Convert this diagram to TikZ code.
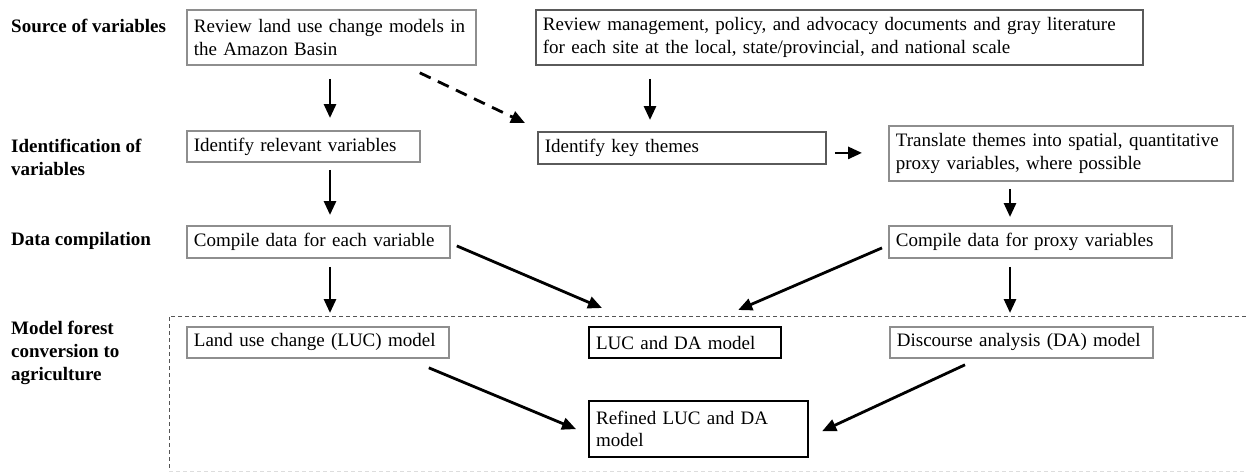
\documentclass[tikz,border=0pt]{standalone}
\usepackage{fontspec}
\setmainfont{Liberation Serif}
\usetikzlibrary{arrows.meta,positioning}
\definecolor{framegray}{HTML}{8E8E8E}
\definecolor{darkframe}{HTML}{5A5A5A}
\definecolor{dashgray}{HTML}{555555}
\definecolor{fadegray}{HTML}{DDDDDD}

\begin{document}
\begin{tikzpicture}[
  x=1pt,y=-1pt,
  >={Triangle[length=14pt,width=12pt]},
  every node/.style={font=\fontsize{19}{22.5}\selectfont},
  stage/.style={draw=framegray,line width=1.8pt,anchor=north west,align=left,inner xsep=7pt,inner ysep=2pt},
  keystage/.style={stage,draw=darkframe},
  result/.style={stage,draw=black,line width=2.2pt},
  rowlabel/.style={anchor=west,align=left,inner sep=0pt,font=\fontsize{19}{23}\selectfont\bfseries},
  flow/.style={line width=2.8pt,->},
  linkdash/.style={flow,dash pattern=on 12pt off 8pt},
  modelframe/.style={line width=0.9pt,dash pattern=on 4pt off 3pt}
]
  \useasboundingbox (0,0) rectangle (1246,472);

  % row labels
  \node[rowlabel] (srclabel) at (11,26) {Source of variables};
  \node[rowlabel] (idlabel) at (11,157) {Identification of\\variables};
  \node[rowlabel] (datalabel) at (11,241) {Data compilation};
  \node[rowlabel] (modellabel) at (11,353) {Model forest\\conversion to\\agriculture};

  % boxes
  \node[stage,text width=275pt,minimum height=55pt] (landuse) at (186,9) {Review land use change models in\\the Amazon Basin};
  \node[keystage,text width=593pt,minimum height=55pt] (policy) at (535,9) {Review management, policy, and advocacy documents and gray literature\\for each site at the local, state/provincial, and national scale};
  \node[stage,text width=219pt,minimum height=31pt] (relvars) at (186,130) {Identify relevant variables};
  \node[keystage,text width=274pt,minimum height=32pt] (themes) at (537,131) {Identify key themes};
  \node[stage,text width=330pt,minimum height=55pt] (translate) at (888,125) {Translate themes into spatial, quantitative\\proxy variables, where possible};
  \node[stage,text width=249pt,minimum height=32pt] (eachvar) at (186,225) {Compile data for each variable};
  \node[stage,text width=269pt,minimum height=32pt] (proxyvar) at (888,225) {Compile data for proxy variables};
  \node[stage,text width=248pt,minimum height=31pt] (lucmodel) at (186,326) {Land use change (LUC) model};
  \node[result,text width=178pt,minimum height=31pt] (bothmodel) at (588,326) {LUC and DA model};
  \node[stage,text width=249pt,minimum height=31pt] (damodel) at (889,326) {Discourse analysis (DA) model};
  \node[result,text width=205pt,minimum height=56pt] (refined) at (588,400) {Refined LUC and DA\\model};

  \coordinate (leftcol) at (330,0);
  \coordinate (midcol) at (650,0);
  \coordinate (rightcol) at (1010,0);

  % arrows
  \draw[flow,shorten <=13pt,shorten >=12pt] (landuse.south -| leftcol) -- (relvars.north -| leftcol);
  \draw[flow,shorten <=7pt,shorten >=10pt] (relvars.south -| leftcol) -- (eachvar.north -| leftcol);
  \draw[flow,shorten <=8pt,shorten >=13pt] (eachvar.south -| leftcol) -- (lucmodel.north -| leftcol);
  \draw[flow,shorten <=13pt,shorten >=11pt] (policy.south -| midcol) -- (themes.north -| midcol);
  \draw[flow,shorten <=7pt,shorten >=8pt] (translate.south -| rightcol) -- (proxyvar.north -| rightcol);
  \draw[flow,shorten <=8pt,shorten >=13pt] (proxyvar.south -| rightcol) -- (damodel.north -| rightcol);
  \draw[flow,shorten <=8pt,shorten >=26pt] ([yshift=-5pt]themes.east) -- ([yshift=-5pt]themes.east -| translate.west);
  \draw[linkdash] ([shift={(-57,7)}]landuse.south east) -- ([shift={(-12,-8)}]themes.north west);
  \draw[flow] ([shift={(6,4)}]eachvar.east) -- ([shift={(14,-18)}]bothmodel.north west);
  \draw[flow] ([shift={(-6,6)}]proxyvar.west) -- ([shift={(-44,-16)}]bothmodel.north east);
  \draw[flow] ([shift={(-21,9)}]lucmodel.south east) -- ([shift={(-12,0)}]refined.west);
  \draw[flow] ([shift={(76,6)}]damodel.south west) -- ([shift={(13,2)}]refined.east);

  % dashed frame round the model stage
  \draw[modelframe,draw=dashgray] (1246,316) -- (169,316) -- (169,471);
  \draw[modelframe,draw=fadegray] (169,471) -- (1246,471);
\end{tikzpicture}
\end{document}
